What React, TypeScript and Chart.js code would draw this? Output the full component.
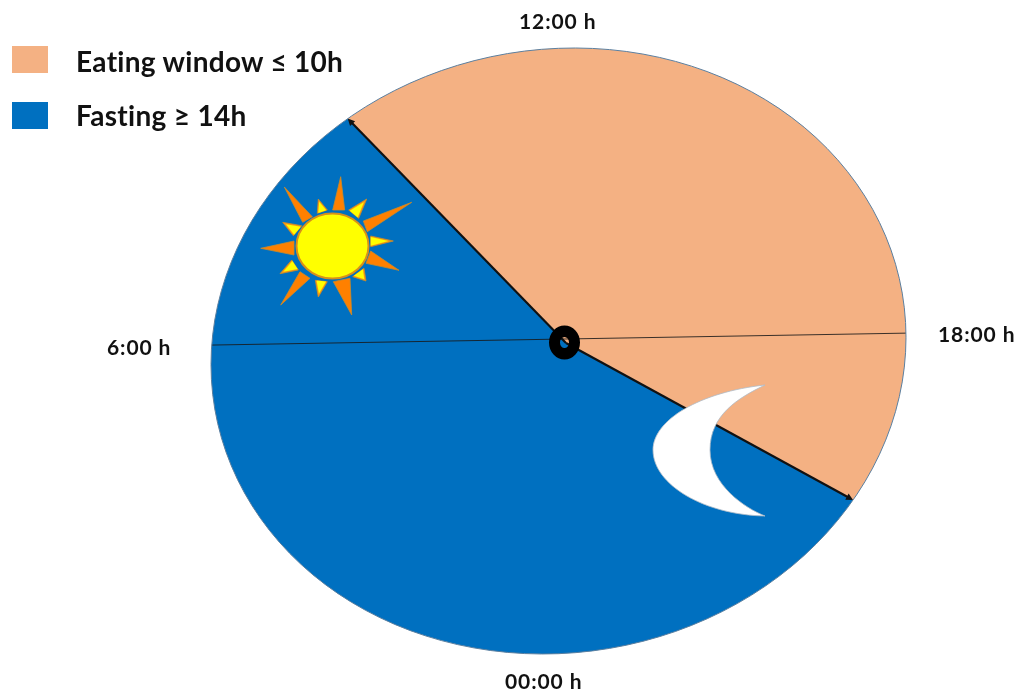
import React, { useEffect, useRef } from "react";
import { Chart, registerables } from "chart.js";

Chart.register(...registerables);

// Daily time-restricted eating schedule
const sliceLabels = ["Eating window ≤ 10h", "Fasting ≥ 14h"];
const sliceHours = [10, 14];
const sliceColors = ["#F4B183", "#0070C0"];
const eatingStartHour = 9.5;
const clockHours = [6, 18];
const clockFace = ["12:00 h", "6:00 h", "18:00 h", "00:00 h"];

const WIDTH = 1017;
const HEIGHT = 693;

// Dial outline (slightly tilted) and the point its slices fan out from
const DIAL = { x: 558.5, y: 351, rx: 347.5, ry: 303, tilt: -0.045 };
const APEX = { x: 566, y: 343 };
const CLOCK_ORIGIN = { x: 565, y: 339 };
const HUB = { x: 564.5, y: 342.5 };

// Linear map from the round doughnut onto the skewed clock face
const K = 0.00747;
const RIGHT = { x: 209.4 * K, y: -3.6 * K };
const UP = { x: -243.5 * K, y: -418.3 * K };

type Pt = { x: number; y: number };

const hourDirection = (h: number): Pt => {
  const a = ((h - 12) * 15 * Math.PI) / 180;
  return {
    x: Math.sin(a) * RIGHT.x + Math.cos(a) * UP.x,
    y: Math.sin(a) * RIGHT.y + Math.cos(a) * UP.y,
  };
};

const tiltCos = Math.cos(DIAL.tilt);
const tiltSin = Math.sin(DIAL.tilt);

// Pixel offset expressed in the dial's unit-circle coordinates
const toUnit = (dx: number, dy: number): Pt => {
  const u = dx / DIAL.rx;
  const v = dy / DIAL.ry;
  return { x: u, y: (v - tiltSin * u) / tiltCos };
};

// Where a ray leaving a point inside the dial meets its rim
const rimPoint = (o: Pt, d: Pt): Pt => {
  const p = toUnit(o.x - DIAL.x, o.y - DIAL.y);
  const q = toUnit(d.x, d.y);
  const a = q.x * q.x + q.y * q.y;
  const b = 2 * (p.x * q.x + p.y * q.y);
  const c = p.x * p.x + p.y * p.y - 1;
  const t = (-b + Math.sqrt(b * b - 4 * a * c)) / (2 * a);
  return { x: o.x + t * d.x, y: o.y + t * d.y };
};

const ellipsePath = (ctx: CanvasRenderingContext2D) => {
  ctx.save();
  ctx.transform(DIAL.rx, DIAL.ry * tiltSin, 0, DIAL.ry * tiltCos, DIAL.x, DIAL.y);
  ctx.beginPath();
  ctx.arc(0, 0, 1, 0, Math.PI * 2);
  ctx.restore();
};

const polygon = (ctx: CanvasRenderingContext2D, pts: number[][]) => {
  ctx.beginPath();
  pts.forEach(([x, y], i) => (i ? ctx.lineTo(x, y) : ctx.moveTo(x, y)));
  ctx.closePath();
};

const drawSun = (ctx: CanvasRenderingContext2D) => {
  const longRays = [
    [[340.7, 176.7], [332.7, 210], [344.7, 210]],
    [[411.7, 202.3], [363.3, 221], [367.3, 231.7]],
    [[399, 270.3], [370.7, 251], [366, 263.3]],
    [[351.7, 315], [350, 278.3], [333.3, 281.7]],
    [[280.7, 305], [300, 271.7], [310, 278.3]],
    [[260.7, 248.3], [294, 241], [294, 255]],
    [[284.3, 187], [312.3, 216.7], [302.7, 222.3]],
  ];
  const shortRays = [
    [[318.3, 199], [317.3, 213.3], [327.3, 210]],
    [[366.7, 199], [348.7, 210], [358.7, 218.3]],
    [[393.3, 241], [370.7, 236], [370.7, 246.7]],
    [[366, 281], [352.7, 276.7], [364, 268.3]],
    [[318.3, 297], [315.3, 280.3], [327.3, 281.7]],
    [[280, 273.7], [291.7, 260], [298.3, 270]],
    [[282.7, 222.3], [301.7, 225.7], [293.3, 235.7]],
  ];
  ctx.save();
  ctx.lineJoin = "miter";
  ctx.fillStyle = "#FF8000";
  ctx.strokeStyle = "#C98A2A";
  ctx.lineWidth = 0.8;
  longRays.forEach((r) => {
    polygon(ctx, r);
    ctx.fill();
    ctx.stroke();
  });
  shortRays.forEach((r) => {
    polygon(ctx, r);
    ctx.fillStyle = "#FF9A10";
    ctx.fill();
    ctx.stroke();
    const [t, a, b] = r;
    const mx = (a[0] + b[0]) / 2;
    const my = (a[1] + b[1]) / 2;
    polygon(ctx, [
      [mx + (t[0] - mx) * 0.78, my + (t[1] - my) * 0.78],
      [mx + (a[0] - mx) * 0.8, my + (a[1] - my) * 0.8],
      [mx + (b[0] - mx) * 0.8, my + (b[1] - my) * 0.8],
    ]);
    ctx.fillStyle = "#FFFF00";
    ctx.fill();
  });
  ctx.beginPath();
  ctx.ellipse(332.5, 246, 36, 32.5, 0, 0, Math.PI * 2);
  ctx.fillStyle = "#FFFF00";
  ctx.fill();
  ctx.strokeStyle = "#D8901A";
  ctx.lineWidth = 2;
  ctx.stroke();
  ctx.restore();
};

const drawMoon = (ctx: CanvasRenderingContext2D) => {
  ctx.save();
  ctx.beginPath();
  ctx.moveTo(765, 385);
  ctx.bezierCurveTo(700, 392, 653, 420, 653, 450);
  ctx.bezierCurveTo(653, 485, 705, 515, 765, 516);
  ctx.bezierCurveTo(745, 508, 710, 485, 710, 450);
  ctx.bezierCurveTo(710, 415, 738, 398, 765, 385);
  ctx.closePath();
  ctx.fillStyle = "#FFFFFF";
  ctx.fill();
  ctx.strokeStyle = "#AEBBC8";
  ctx.lineWidth = 0.8;
  ctx.stroke();
  ctx.restore();
};

const clockFacePlugin = {
  id: "clockFace",
  beforeDatasetsDraw(chart: any) {
    const arc = chart.getDatasetMeta(0).data[0];
    const ctx = chart.ctx;
    ctx.save();
    ellipsePath(ctx);
    ctx.clip();
    ctx.translate(APEX.x, APEX.y);
    ctx.transform(RIGHT.x, RIGHT.y, -UP.x, -UP.y, 0, 0);
    ctx.translate(-arc.x, -arc.y);
  },
  afterDatasetsDraw(chart: any) {
    const ctx = chart.ctx;
    ctx.restore();

    // Thin clock lines from 6:00 to 18:00
    ctx.save();
    ctx.strokeStyle = "rgba(25,25,25,0.85)";
    ctx.lineWidth = 1;
    clockHours.forEach((h) => {
      const end = rimPoint(CLOCK_ORIGIN, hourDirection(h));
      ctx.beginPath();
      ctx.moveTo(CLOCK_ORIGIN.x, CLOCK_ORIGIN.y);
      ctx.lineTo(end.x, end.y);
      ctx.stroke();
    });

    // Heavy lines where the eating window opens and closes
    const boundaries = [eatingStartHour, eatingStartHour + sliceHours[0]];
    ctx.strokeStyle = "#111111";
    ctx.fillStyle = "#111111";
    boundaries.forEach((h) => {
      const d = hourDirection(h);
      const end = rimPoint(APEX, d);
      const len = Math.hypot(d.x, d.y);
      const ux = d.x / len;
      const uy = d.y / len;
      ctx.lineWidth = 2.2;
      ctx.beginPath();
      ctx.moveTo(APEX.x, APEX.y);
      ctx.lineTo(end.x - ux * 3, end.y - uy * 3);
      ctx.stroke();
      polygon(ctx, [
        [end.x, end.y],
        [end.x - ux * 7 - uy * 3.5, end.y - uy * 7 + ux * 3.5],
        [end.x - ux * 7 + uy * 3.5, end.y - uy * 7 - ux * 3.5],
      ]);
      ctx.fill();
    });

    // Dial rim
    ellipsePath(ctx);
    ctx.strokeStyle = "#5B7F9F";
    ctx.lineWidth = 1;
    ctx.stroke();

    drawSun(ctx);
    drawMoon(ctx);

    // Ring at the centre of the dial
    ctx.beginPath();
    ctx.ellipse(HUB.x, HUB.y, 15.5, 17, 0, 0, Math.PI * 2);
    ctx.ellipse(HUB.x, HUB.y, 4.5, 5.5, 0, 0, Math.PI * 2);
    ctx.fillStyle = "#000000";
    ctx.fill("evenodd");
    ctx.restore();
  },
};

const textBase: React.CSSProperties = {
  position: "absolute",
  fontFamily: "Lato, sans-serif",
  fontWeight: 700,
  color: "#111111",
  whiteSpace: "nowrap",
  lineHeight: 1,
};

const clockStyles: React.CSSProperties[] = [
  { left: 519, top: 10, fontSize: 21, letterSpacing: 0.9 },
  { left: 107, top: 336, fontSize: 21, letterSpacing: 0.9 },
  { left: 938, top: 323, fontSize: 21, letterSpacing: 0.9 },
  { left: 505, top: 670, fontSize: 21, letterSpacing: 0.9 },
];

export default function App() {
  const canvasRef = useRef<HTMLCanvasElement>(null);

  useEffect(() => {
    const chart = new Chart(canvasRef.current!, {
      type: "doughnut",
      data: {
        labels: sliceLabels,
        datasets: [
          {
            data: sliceHours,
            backgroundColor: sliceColors,
            borderWidth: 0,
            clip: false,
          } as any,
        ],
      },
      options: {
        responsive: false,
        animation: false,
        cutout: 0,
        rotation: (eatingStartHour - 12) * 15,
        events: [],
        layout: { padding: 0 },
        plugins: { legend: { display: false }, tooltip: { enabled: false } },
      },
      plugins: [clockFacePlugin],
    });
    return () => chart.destroy();
  }, []);

  return (
    <div style={{ position: "absolute", left: 0, top: 0, width: WIDTH, height: HEIGHT, background: "#FFFFFF", overflow: "hidden" }}>
      <canvas ref={canvasRef} width={WIDTH} height={HEIGHT} style={{ position: "absolute", left: 0, top: 0 }} />
      {sliceLabels.map((label, i) => (
        <React.Fragment key={label}>
          <div style={{ position: "absolute", left: 12, top: 46 + i * 55.5, width: 36, height: 27, background: sliceColors[i] }} />
          <div style={{ ...textBase, left: 76, top: 46.5 + i * 54, fontSize: 28, letterSpacing: 0.3 }}>{label}</div>
        </React.Fragment>
      ))}
      {clockFace.map((label, i) => (
        <div key={label} style={{ ...textBase, ...clockStyles[i] }}>{label}</div>
      ))}
    </div>
  );
}
